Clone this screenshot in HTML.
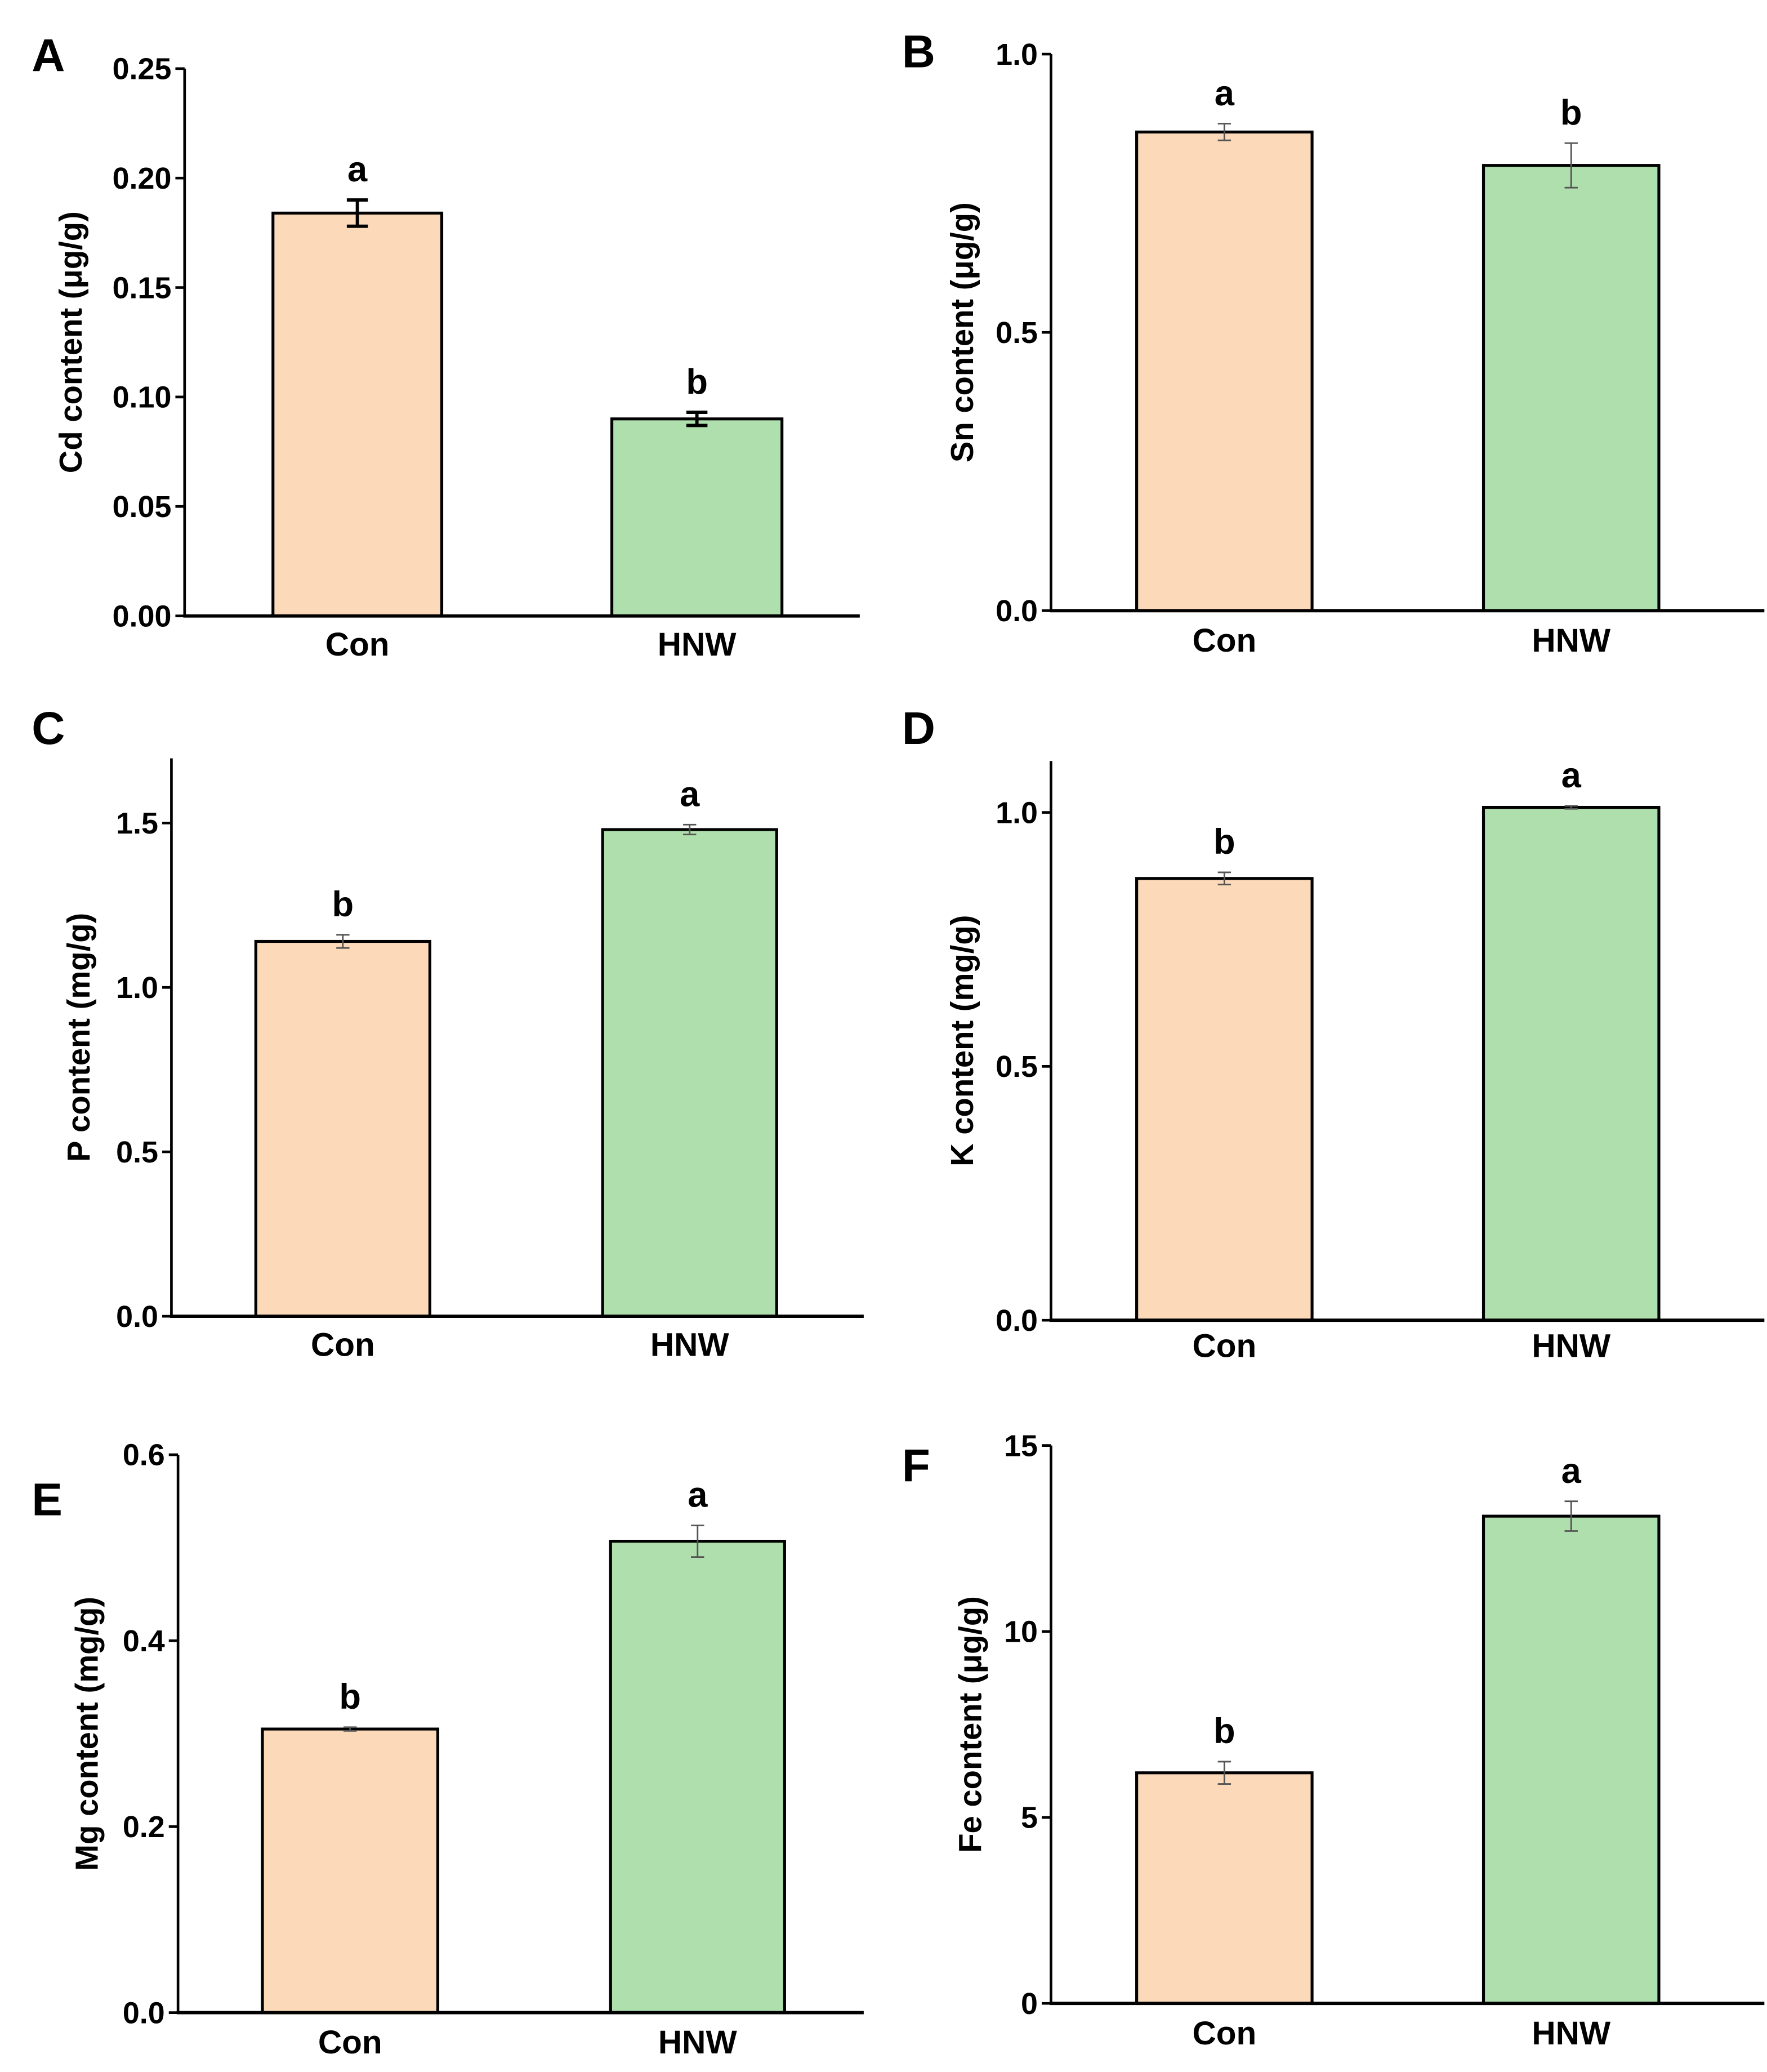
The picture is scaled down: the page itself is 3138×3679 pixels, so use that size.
<!DOCTYPE html>
<html><head><meta charset="utf-8"><style>
html,body{margin:0;padding:0;background:#fff}
svg{display:block}
text{font-family:"Liberation Sans",sans-serif;font-weight:bold;fill:#000}
.tick{font-family:"Liberation Sans",sans-serif;font-size:23px}
.cat{font-family:"Liberation Sans",sans-serif;font-size:25px}
</style></head><body>
<svg id="fig" width="3138" height="3679" viewBox="0 0 1340 1571" xmlns="http://www.w3.org/2000/svg"></svg>
<script>
const categories = ["Con","HNW"];
const valuesA = [0.184, 0.090]; const errA = [0.006, 0.003]; const sigA = ["a","b"];
const valuesB = [0.86, 0.80];   const errB = [0.015, 0.04];  const sigB = ["a","b"];
const valuesC = [1.14, 1.48];   const errC = [0.02, 0.015];  const sigC = ["b","a"];
const valuesD = [0.87, 1.01];   const errD = [0.012, 0.003]; const sigD = ["b","a"];
const valuesE = [0.305, 0.507]; const errE = [0.002, 0.017]; const sigE = ["b","a"];
const valuesF = [6.2, 13.1];    const errF = [0.3, 0.4];     const sigF = ["b","a"];
const ticksA = ["0.00","0.05","0.10","0.15","0.20","0.25"];
const ticksB = ["0.0","0.5","1.0"];
const ticksC = ["0.0","0.5","1.0","1.5"];
const ticksD = ["0.0","0.5","1.0"];
const ticksE = ["0.0","0.2","0.4","0.6"];
const ticksF = ["0","5","10","15"];

const NS="http://www.w3.org/2000/svg";
const svg=document.getElementById('fig');
function mk(tag,attrs,parent){const e=document.createElementNS(NS,tag);for(const k in attrs)e.setAttribute(k,attrs[k]);(parent||svg).appendChild(e);return e;}

const panels=[
 {id:'a',letter:'A',lx:24,ly:54,ax:140,y0:467,yTop:52,x1:652,bars:[[207,335],[464,593]],vals:valuesA,err:errA,sig:sigA,ticks:ticksA,title:'Cd content (μg/g)',tx:62,catY:497,errCol:'#000',errW:2.5,cap:8},
 {id:'b',letter:'B',lx:684,ly:51,ax:797,y0:463,yTop:41,x1:1338,bars:[[862,995],[1125,1258]],vals:valuesB,err:errB,sig:sigB,ticks:ticksB,title:'Sn content (μg/g)',tx:738,catY:494,errCol:'#555',errW:1.2,cap:5},
 {id:'c',letter:'C',lx:24,ly:564,ax:130,y0:998,yTop:575,x1:655,bars:[[194,326],[457,589]],vals:valuesC,err:errC,sig:sigC,ticks:ticksC,title:'P content (mg/g)',tx:68,catY:1028,errCol:'#555',errW:1.2,cap:5},
 {id:'d',letter:'D',lx:684,ly:564,ax:797,y0:1001,yTop:577,x1:1338,bars:[[862,995],[1125,1258]],vals:valuesD,err:errD,sig:sigD,ticks:ticksD,title:'K content (mg/g)',tx:738,catY:1029,errCol:'#555',errW:1.2,cap:5},
 {id:'e',letter:'E',lx:24,ly:1149,ax:135,y0:1526,yTop:1103,x1:655,bars:[[199,332],[463,595]],vals:valuesE,err:errE,sig:sigE,ticks:ticksE,title:'Mg content (mg/g)',tx:74,catY:1557,errCol:'#555',errW:1.2,cap:5},
 {id:'f',letter:'F',lx:684,ly:1123,ax:797,y0:1519,yTop:1096,x1:1338,bars:[[862,995],[1125,1258]],vals:valuesF,err:errF,sig:sigF,ticks:ticksF,title:'Fe content (μg/g)',tx:744,catY:1550,errCol:'#555',errW:1.2,cap:5}
];
const topTickY={a:52,b:41,c:624,d:616,e:1103,f:1096};
const colors=['#fbd9b9','#afdfac'];

panels.forEach(p=>{
 const g=mk('g',{});
 
 
 const tickVals=p.ticks.map(Number);
 const tTop=tickVals[tickVals.length-1];
 const yS=v=>p.y0-(v/tTop)*(p.y0-topTickY[p.id]);
 const L=mk('text',{x:p.lx,y:p.ly,'font-size':35},g); L.textContent=p.letter;
 
 
 p.vals.forEach((v,i)=>{
  const [bx0,bx1]=p.bars[i];
  const r=mk('rect',{x:bx0,y:yS(v),width:bx1-bx0,height:p.y0-yS(v),fill:colors[i],stroke:'#000','stroke-width':2.2},g);
  
  
  const cx=(bx0+bx1)/2;
  const eg=mk('g',{stroke:p.errCol,'stroke-width':p.errW},g);
  
  
  mk('line',{x1:cx,x2:cx,y1:yS(v+p.err[i]),y2:yS(v-p.err[i])},eg);
  mk('line',{x1:cx-p.cap,x2:cx+p.cap,y1:yS(v+p.err[i]),y2:yS(v+p.err[i])},eg);
  mk('line',{x1:cx-p.cap,x2:cx+p.cap,y1:yS(v-p.err[i]),y2:yS(v-p.err[i])},eg);
  const s=mk('text',{x:cx,y:yS(v+p.err[i])-14,'font-size':27,'text-anchor':'middle'},g); s.textContent=p.sig[i];
  
  
  const c=mk('text',{x:cx,y:p.catY,'text-anchor':'middle',class:'cat'},g); c.textContent=categories[i];
  
  
 });
 const ya=mk('line',{x1:p.ax,x2:p.ax,y1:p.yTop,y2:p.y0+1,stroke:'#000','stroke-width':2},g);
 
 
 const xa=mk('line',{x1:p.ax-1,x2:p.x1,y1:p.y0,y2:p.y0,stroke:'#000','stroke-width':2.5},g);
 
 
 p.ticks.forEach((t,k)=>{
  const y=yS(tickVals[k]);
  mk('line',{x1:p.ax-7,x2:p.ax,y1:y,y2:y,stroke:'#000','stroke-width':2},g);
  const tl=mk('text',{x:p.ax-10,y:y+8,'text-anchor':'end',class:'tick'},g); tl.textContent=t;
  
  
 });
 const cy=(p.y0+p.yTop)/2;
 const tt=mk('text',{x:p.tx,y:cy,'font-size':24,'text-anchor':'middle',transform:`rotate(-90 ${p.tx} ${cy})`},g);
 tt.textContent=p.title;
 
 
});
</script>
</body></html>
